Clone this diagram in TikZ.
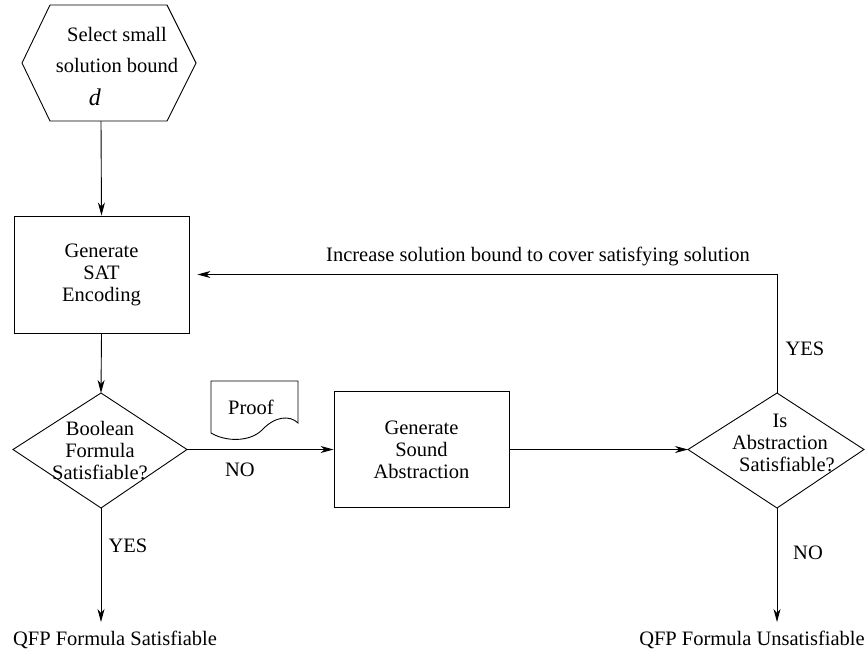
\documentclass[tikz,border=0pt]{standalone}
\usepackage{fontspec}
\setmainfont{Liberation Serif}
\usetikzlibrary{arrows.meta}
\begin{document}
\begin{tikzpicture}[x=1pt,y=-1pt,
  line width=0.9pt,
  lbl/.style={font=\fontsize{20.5}{22}\selectfont, inner sep=0pt, align=center},
  boxnode/.style={draw, lbl, minimum width=175pt, minimum height=116pt},
  arr/.style={-{Stealth[length=13pt,width=7pt,inset=4pt]}}
]
\useasboundingbox (0,0) rectangle (867,654);

% hexagon
\draw (50,5) -- (167,5) -- (196,63) -- (167,121) -- (50,121) -- (22,63) -- cycle;
\node[lbl, font=\fontsize{20.5}{31}\selectfont] (hex) at (117,50) {Select small\\solution bound};
\node[lbl, font=\fontsize{24}{26}\selectfont] (dvar) at (95,97) {\textit{d}};
\coordinate (hexb) at (101,121);

% boxes
\node[boxnode, minimum height=117pt] (box1) at (101.5,274.5) {Generate\\SAT\\Encoding};
\node[boxnode] (box2) at (421.5,449.5) {Generate\\Sound\\Abstraction};

% diamond 1
\coordinate (d1t) at (101,393);
\coordinate (d1r) at (187,449.5);
\coordinate (d1b) at (101,508);
\coordinate (d1l) at (13,449.5);
\draw (d1t) -- (d1r) -- (d1b) -- (d1l) -- cycle;
\node[lbl] (dia1) at (100,451) {Boolean\\Formula\\Satisfiable?};

% diamond 2
\coordinate (d2t) at (777,393);
\coordinate (d2r) at (864,449.5);
\coordinate (d2b) at (777,508);
\coordinate (d2l) at (688,449.5);
\draw (d2t) -- (d2r) -- (d2b) -- (d2l) -- cycle;
\node[lbl] (dia2) at (780,443) {Is\\Abstraction\\\hspace*{14pt}Satisfiable?};

% proof document
\draw (211,381) -- (298,381) -- (298,423)
  .. controls (290,415) and (275,416) .. (262,430)
  .. controls (250,442) and (226,442) .. (211,433) -- cycle;
\node[lbl] (proof) at (251,407) {Proof};

% connectors
\draw[arr] (hexb) -- (box1.north);
\draw[arr] (box1.south) -- (d1t);
\draw[arr] (d1r) -- (box2.west);
\draw[arr] (box2.east) -- (d2l);
\draw[arr, shorten >=8pt] (d2t) |- (box1.east);

\coordinate (e1) at (101,622);
\coordinate (e2) at (777,622);
\draw[arr] (d1b) -- (e1);
\draw[arr] (d2b) -- (e2);

% labels
\node[lbl] (inc) at (538,256) {Increase solution bound to cover satisfying solution};
\node[lbl] (yes2) at (805,349) {YES};
\node[lbl] (no1) at (240,470) {NO};
\node[lbl] (yes1) at (128,546) {YES};
\node[lbl] (no2) at (808,553) {NO};
\node[lbl] (qfp1) at (115,640) {QFP Formula Satisfiable};
\node[lbl] (qfp2) at (752,640) {QFP Formula Unsatisfiable};
\end{tikzpicture}
\end{document}
